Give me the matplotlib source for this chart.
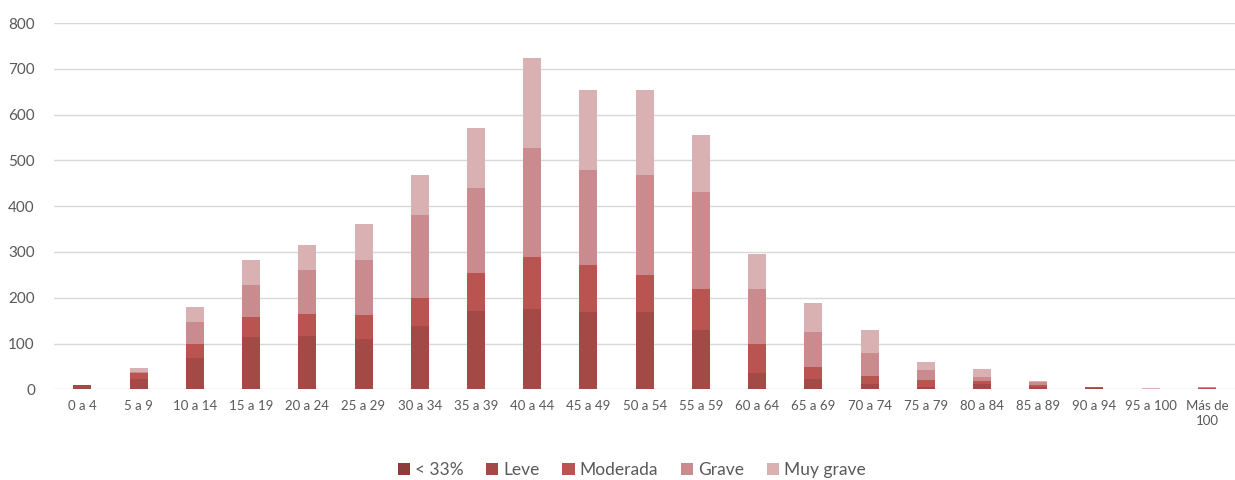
import numpy as np
import matplotlib.pyplot as plt

plt.rcParams["font.family"] = ["Lato", "DejaVu Sans"]

categories = ["0 a 4", "5 a 9", "10 a 14", "15 a 19", "20 a 24", "25 a 29", "30 a 34",
              "35 a 39", "40 a 44", "45 a 49", "50 a 54", "55 a 59", "60 a 64", "65 a 69",
              "70 a 74", "75 a 79", "80 a 84", "85 a 89", "90 a 94", "95 a 100", "Más de\n100"]

menos33 = [0, 0, 0, 0, 0, 0, 0, 0, 0, 0, 0, 0, 0, 0, 0, 0, 0, 0, 0, 0, 0]
leve = [9, 22, 69, 114, 117, 109, 139, 172, 176, 169, 169, 130, 35, 22, 12, 6, 12, 5, 3, 0, 1]
moderada = [0, 13, 31, 44, 48, 54, 60, 83, 114, 102, 81, 90, 64, 27, 18, 14, 5, 5, 3, 0, 2]
grave = [0, 3, 48, 69, 95, 120, 182, 185, 237, 207, 217, 212, 120, 76, 50, 22, 9, 6, 0, 1, 1]
muy_grave = [0, 8, 31, 56, 55, 79, 86, 130, 197, 175, 186, 123, 77, 63, 50, 18, 18, 2, 0, 1, 0]

series = [("< 33%", menos33, "#8E3B3B"),
          ("Leve", leve, "#A34A47"),
          ("Moderada", moderada, "#BA5450"),
          ("Grave", grave, "#C98B8D"),
          ("Muy grave", muy_grave, "#D9B1B3")]

fig = plt.figure(figsize=(12.35, 4.8), dpi=100)
ax = fig.add_axes([0.044, 0.189, 0.956, 0.763])

x = np.arange(len(categories))
bottom = np.zeros(len(categories))
for name, vals, col in series:
    ax.bar(x, vals, width=0.32, bottom=bottom, color=col, label=name, zorder=3)
    bottom += np.array(vals)

ax.set_xlim(-0.5, len(categories) - 0.5)
ax.set_ylim(0, 800)
ax.set_yticks(range(0, 801, 100))
ax.grid(axis="y", color="#D9D9D9", linewidth=1, zorder=0)
for s in ax.spines.values():
    s.set_visible(False)
ax.tick_params(length=0, colors="#595959")
ax.tick_params(axis="y", labelsize=11, pad=14)
ax.tick_params(axis="x", labelsize=9.5, pad=8)
ax.set_xticks(x)
ax.set_xticklabels(categories, linespacing=1.25)

leg = ax.legend(loc="upper center", bbox_to_anchor=(0.489, -0.155), ncol=5, frameon=False,
                fontsize=12.5, handlelength=0.7, handleheight=0.7, handletextpad=0.3,
                columnspacing=1.3, labelcolor="#595959")

fig.savefig("out.png", dpi=100)
